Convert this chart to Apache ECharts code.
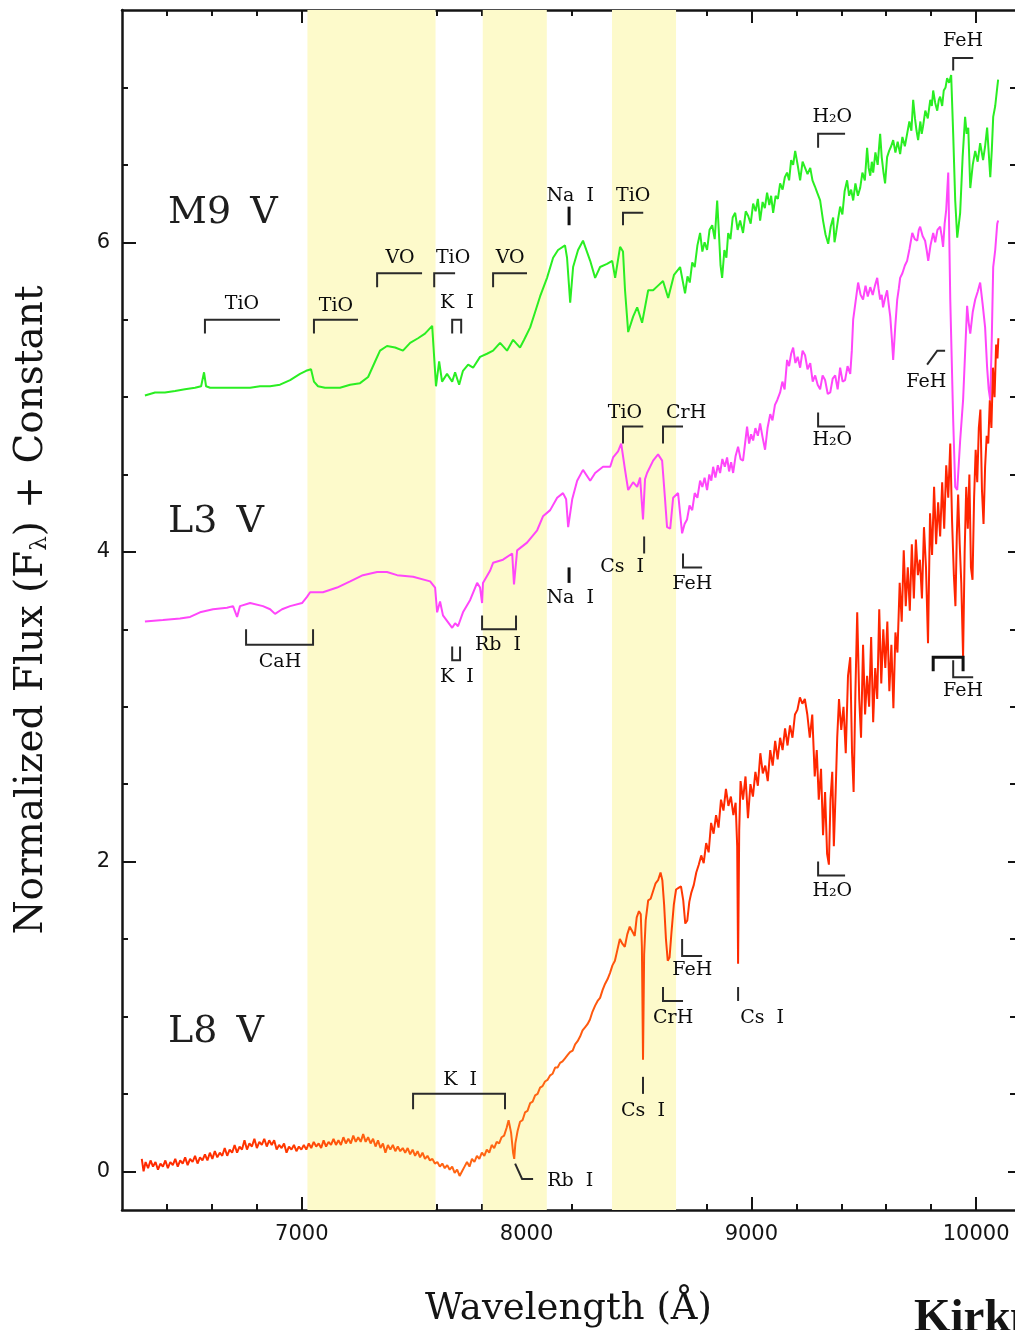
<!DOCTYPE html>
<html>
<head>
<meta charset="utf-8">
<script src="https://cdn.jsdelivr.net/npm/echarts@6/dist/echarts.min.js"></script>
<style>
  html, body { margin: 0; padding: 0; background: #ffffff; }
  #chart { width: 1015px; height: 1330px; }
</style>
</head>
<body>
<div id="chart"></div>
<script>
// Spectra: [wavelength (Å), normalized flux + constant]
const m9Spectrum = [
  [6302,5.01],[6347,5.03],[6391,5.03],[6436,5.04],[6480,5.05],[6525,5.06],[6552,5.07],[6565,5.16],[6574,5.07],
  [6592,5.06],[6636,5.06],[6681,5.06],[6725,5.06],[6770,5.06],[6814,5.07],[6859,5.07],[6903,5.08],[6948,5.11],
  [6992,5.15],[7019,5.17],[7041,5.18],[7054,5.10],[7072,5.07],[7103,5.06],[7135,5.06],[7170,5.06],[7215,5.08],
  [7259,5.09],[7295,5.13],[7326,5.23],[7348,5.30],[7379,5.33],[7415,5.32],[7450,5.30],[7482,5.35],[7517,5.38],
  [7548,5.41],[7580,5.46],[7588,5.47],[7597,5.07],[7611,5.23],[7624,5.10],[7646,5.15],[7669,5.10],[7682,5.16],
  [7700,5.08],[7717,5.17],[7740,5.21],[7762,5.19],[7793,5.26],[7824,5.28],[7851,5.30],[7882,5.35],[7913,5.30],
  [7940,5.37],[7971,5.32],[7989,5.37],[8016,5.45],[8038,5.55],[8060,5.65],[8091,5.77],[8118,5.90],[8140,5.95],
  [8171,5.98],[8180,5.90],[8194,5.61],[8207,5.84],[8229,5.95],[8251,6.01],[8283,5.88],[8305,5.77],[8327,5.84],
  [8358,5.86],[8381,5.88],[8394,5.77],[8416,5.97],[8429,5.94],[8438,5.69],[8452,5.42],[8474,5.52],[8492,5.58],
  [8514,5.48],[8541,5.69],[8563,5.69],[8585,5.72],[8607,5.75],[8630,5.64],[8656,5.79],[8683,5.84],[8705,5.67],
  [8716,5.78],[8726,5.74],[8737,5.87],[8748,5.84],[8760,5.98],[8772,6.06],[8782,5.94],[8792,6.00],[8803,5.95],
  [8814,6.08],[8826,6.11],[8837,6.02],[8848,6.27],[8856,6.05],[8863,5.85],[8870,5.77],[8880,5.95],[8889,5.90],
  [8897,6.06],[8907,6.02],[8917,6.16],[8928,6.19],[8939,6.08],[8950,6.14],[8963,6.06],[8975,6.20],[8986,6.17],
  [8997,6.12],[9008,6.25],[9019,6.20],[9029,6.28],[9039,6.14],[9050,6.26],[9060,6.22],[9070,6.32],[9080,6.24],
  [9088,6.30],[9097,6.19],[9108,6.30],[9118,6.28],[9128,6.38],[9139,6.34],[9149,6.42],[9159,6.45],[9168,6.40],
  [9177,6.53],[9186,6.50],[9195,6.59],[9206,6.50],[9217,6.40],[9228,6.52],[9239,6.48],[9250,6.44],[9262,6.48],
  [9272,6.40],[9283,6.36],[9293,6.32],[9306,6.27],[9319,6.14],[9330,6.05],[9342,5.99],[9353,6.10],[9364,6.16],
  [9370,6.00],[9377,6.06],[9386,6.15],[9395,6.23],[9405,6.18],[9415,6.33],[9426,6.40],[9435,6.30],[9444,6.34],
  [9453,6.27],[9463,6.38],[9474,6.30],[9484,6.35],[9494,6.45],[9505,6.40],[9515,6.61],[9522,6.48],[9529,6.43],
  [9536,6.52],[9542,6.45],[9552,6.58],[9562,6.50],[9573,6.70],[9580,6.55],[9588,6.45],[9595,6.38],[9604,6.55],
  [9613,6.59],[9622,6.62],[9631,6.66],[9641,6.58],[9651,6.65],[9662,6.57],[9672,6.68],[9683,6.62],[9693,6.70],
  [9703,6.78],[9712,6.72],[9720,6.92],[9728,6.80],[9735,6.72],[9742,6.66],[9752,6.78],[9758,6.70],[9764,6.75],
  [9774,6.85],[9785,6.80],[9796,6.92],[9803,6.88],[9809,6.98],[9818,6.90],[9827,6.85],[9834,6.92],[9840,6.94],
  [9849,6.88],[9856,6.98],[9864,7.00],[9871,7.06],[9880,7.03],[9889,7.08],[9898,6.70],[9907,6.27],[9916,6.03],
  [9929,6.19],[9940,6.55],[9951,6.81],[9958,6.70],[9965,6.74],[9974,6.35],[9985,6.50],[9996,6.59],[10007,6.52],
  [10018,6.64],[10031,6.53],[10040,6.62],[10049,6.74],[10063,6.42],[10070,6.60],[10076,6.81],[10085,6.88],
  [10094,7.00],[10098,7.05]
];

const l3Spectrum = [
  [6302,3.55],[6382,3.56],[6458,3.57],[6503,3.58],[6547,3.61],[6605,3.63],[6667,3.64],[6694,3.65],[6712,3.58],
  [6725,3.65],[6770,3.67],[6827,3.65],[6859,3.63],[6881,3.60],[6912,3.63],[6948,3.65],[7001,3.67],[7023,3.71],
  [7037,3.74],[7094,3.74],[7157,3.77],[7215,3.81],[7272,3.85],[7335,3.87],[7379,3.87],[7424,3.85],[7495,3.84],
  [7571,3.81],[7593,3.77],[7602,3.61],[7615,3.68],[7628,3.59],[7669,3.51],[7682,3.54],[7695,3.52],[7717,3.61],
  [7749,3.69],[7780,3.80],[7793,3.77],[7802,3.67],[7806,3.80],[7838,3.88],[7851,3.93],[7895,3.95],[7936,3.99],
  [7944,3.79],[7958,4.01],[8002,4.06],[8047,4.14],[8073,4.23],[8105,4.27],[8136,4.35],[8162,4.38],[8176,4.34],
  [8185,4.16],[8203,4.34],[8225,4.46],[8251,4.53],[8283,4.46],[8305,4.51],[8340,4.55],[8372,4.55],[8385,4.61],
  [8407,4.65],[8421,4.70],[8438,4.53],[8452,4.40],[8474,4.45],[8492,4.42],[8505,4.48],[8518,4.21],[8527,4.47],
  [8536,4.51],[8563,4.59],[8585,4.63],[8603,4.59],[8616,4.34],[8625,4.16],[8639,4.15],[8652,4.35],[8674,4.38],
  [8692,4.12],[8703,4.18],[8714,4.21],[8725,4.30],[8737,4.27],[8748,4.38],[8760,4.35],[8772,4.46],[8782,4.42],
  [8792,4.48],[8803,4.40],[8813,4.50],[8822,4.46],[8830,4.55],[8840,4.48],[8851,4.56],[8861,4.51],[8871,4.60],
  [8882,4.55],[8892,4.61],[8901,4.52],[8910,4.58],[8919,4.51],[8930,4.62],[8941,4.68],[8952,4.60],[8963,4.59],
  [8972,4.70],[8981,4.81],[8990,4.70],[8999,4.76],[9008,4.72],[9018,4.80],[9029,4.75],[9039,4.83],[9050,4.74],
  [9061,4.66],[9072,4.80],[9084,4.89],[9094,4.85],[9105,4.95],[9115,4.98],[9128,5.03],[9138,5.10],[9148,5.05],
  [9159,5.24],[9168,5.20],[9177,5.28],[9186,5.32],[9196,5.22],[9206,5.26],[9217,5.19],[9228,5.30],[9239,5.27],
  [9250,5.18],[9262,5.22],[9273,5.10],[9284,5.14],[9295,5.08],[9306,5.05],[9317,5.14],[9328,5.11],[9340,5.02],
  [9351,5.03],[9362,5.12],[9373,5.14],[9384,5.05],[9395,5.19],[9406,5.10],[9417,5.11],[9428,5.20],[9440,5.15],
  [9447,5.30],[9453,5.50],[9464,5.62],[9475,5.74],[9486,5.66],[9497,5.63],[9508,5.72],[9518,5.65],[9529,5.71],
  [9540,5.66],[9550,5.72],[9560,5.77],[9566,5.70],[9573,5.63],[9580,5.66],[9586,5.58],[9595,5.64],[9604,5.69],
  [9611,5.60],[9618,5.52],[9625,5.38],[9631,5.24],[9640,5.45],[9649,5.63],[9656,5.70],[9662,5.77],[9672,5.80],
  [9683,5.85],[9693,5.88],[9704,5.96],[9716,6.06],[9727,6.02],[9738,6.01],[9745,6.08],[9751,6.10],[9762,6.04],
  [9773,6.01],[9780,5.95],[9787,5.88],[9797,5.98],[9809,6.06],[9818,6.00],[9828,6.08],[9840,6.10],[9847,6.04],
  [9853,5.97],[9860,6.12],[9867,6.21],[9876,6.45],[9885,5.63],[9898,4.85],[9907,4.42],[9916,4.40],[9929,4.72],
  [9942,4.98],[9960,5.59],[9967,5.48],[9974,5.41],[9985,5.55],[9996,5.63],[10007,5.68],[10018,5.74],[10029,5.60],
  [10040,5.45],[10049,5.19],[10056,5.05],[10063,4.98],[10070,5.40],[10076,5.84],[10085,5.95],[10094,6.12],
  [10098,6.14]
];

const l8Spectrum = [
  [6288,0.08],[6296,0.00],[6305,0.06],[6316,0.02],[6327,0.07],[6338,0.03],[6349,0.06],[6360,0.01],[6371,0.05],
  [6382,0.03],[6393,0.07],[6404,0.02],[6415,0.06],[6426,0.04],[6437,0.08],[6448,0.03],[6459,0.07],[6470,0.05],
  [6481,0.09],[6492,0.04],[6503,0.08],[6514,0.06],[6525,0.10],[6536,0.05],[6547,0.09],[6558,0.07],[6569,0.11],
  [6580,0.07],[6591,0.12],[6602,0.08],[6613,0.13],[6624,0.09],[6635,0.12],[6646,0.10],[6657,0.15],[6668,0.10],
  [6679,0.14],[6690,0.12],[6701,0.17],[6712,0.12],[6723,0.16],[6734,0.14],[6745,0.20],[6756,0.14],[6767,0.18],
  [6778,0.16],[6789,0.21],[6800,0.15],[6811,0.19],[6822,0.17],[6833,0.21],[6844,0.16],[6855,0.20],[6866,0.17],
  [6877,0.20],[6888,0.14],[6899,0.17],[6910,0.15],[6921,0.18],[6932,0.12],[6943,0.16],[6954,0.14],[6965,0.17],
  [6976,0.13],[6987,0.16],[6998,0.14],[7009,0.17],[7020,0.14],[7031,0.18],[7042,0.15],[7053,0.19],[7064,0.16],
  [7075,0.18],[7086,0.15],[7097,0.20],[7108,0.16],[7119,0.19],[7130,0.17],[7141,0.21],[7152,0.17],[7163,0.20],
  [7174,0.17],[7185,0.22],[7196,0.18],[7207,0.21],[7218,0.18],[7229,0.23],[7240,0.19],[7251,0.22],[7262,0.19],
  [7273,0.24],[7284,0.19],[7295,0.22],[7306,0.18],[7317,0.21],[7328,0.16],[7339,0.20],[7350,0.15],[7361,0.18],
  [7372,0.12],[7383,0.17],[7394,0.14],[7405,0.17],[7416,0.13],[7427,0.16],[7438,0.13],[7449,0.15],[7460,0.12],
  [7471,0.15],[7482,0.11],[7493,0.14],[7504,0.10],[7515,0.13],[7526,0.09],[7537,0.12],[7548,0.08],[7559,0.10],
  [7570,0.07],[7581,0.08],[7592,0.05],[7603,0.06],[7614,0.03],[7625,0.05],[7636,0.02],[7647,0.04],[7658,0.01],
  [7669,0.03],[7680,-0.01],[7691,0.01],[7702,-0.03],[7713,0.00],[7724,0.03],[7735,0.06],[7746,0.03],[7757,0.08],
  [7768,0.06],[7779,0.10],[7790,0.08],[7801,0.12],[7812,0.10],[7823,0.14],[7834,0.12],[7845,0.17],[7856,0.15],
  [7867,0.19],[7878,0.18],[7889,0.22],[7900,0.23],[7911,0.28],[7920,0.33],[7931,0.25],[7940,0.12],[7945,0.08],
  [7950,0.18],[7960,0.26],[7971,0.32],[7982,0.33],[7993,0.38],[8004,0.39],[8016,0.44],[8027,0.45],[8038,0.49],
  [8049,0.50],[8060,0.54],[8071,0.55],[8082,0.58],[8093,0.59],[8105,0.62],[8116,0.63],[8127,0.67],[8138,0.67],
  [8149,0.70],[8160,0.71],[8171,0.73],[8182,0.75],[8193,0.77],[8205,0.78],[8216,0.82],[8227,0.84],[8238,0.87],
  [8249,0.91],[8260,0.93],[8271,0.95],[8282,0.98],[8293,1.03],[8305,1.07],[8316,1.10],[8327,1.12],[8338,1.17],
  [8349,1.21],[8360,1.24],[8371,1.28],[8382,1.33],[8393,1.36],[8404,1.43],[8415,1.50],[8426,1.47],[8437,1.45],
  [8448,1.53],[8459,1.58],[8470,1.55],[8481,1.52],[8490,1.64],[8500,1.68],[8508,1.66],[8513,1.45],[8518,0.72],
  [8523,1.40],[8530,1.62],[8541,1.75],[8552,1.76],[8563,1.81],[8574,1.86],[8585,1.88],[8596,1.93],[8604,1.88],
  [8612,1.72],[8620,1.50],[8628,1.36],[8636,1.38],[8645,1.55],[8655,1.72],[8665,1.82],[8676,1.83],[8687,1.84],
  [8697,1.75],[8706,1.60],[8715,1.62],[8724,1.74],[8733,1.80],[8744,1.85],[8755,1.93],[8766,1.98],[8777,2.04],
  [8788,1.99],[8799,2.12],[8810,2.06],[8821,2.25],[8832,2.18],[8843,2.30],[8854,2.22],[8865,2.40],[8876,2.33],
  [8887,2.47],[8898,2.36],[8909,2.42],[8920,2.30],[8930,2.38],[8937,2.10],[8941,1.34],[8946,2.20],[8952,2.52],
  [8963,2.40],[8974,2.55],[8985,2.28],[8996,2.50],[9007,2.42],[9018,2.58],[9029,2.49],[9040,2.70],[9051,2.57],
  [9062,2.62],[9073,2.52],[9084,2.72],[9095,2.62],[9106,2.78],[9117,2.66],[9128,2.80],[9139,2.72],[9150,2.86],
  [9161,2.75],[9172,2.88],[9183,2.80],[9194,2.95],[9205,2.98],[9216,3.06],[9227,3.02],[9238,3.05],[9249,2.95],
  [9260,2.80],[9271,2.95],[9282,2.55],[9291,2.72],[9300,2.40],[9310,2.60],[9319,2.17],[9328,2.45],[9337,2.05],
  [9345,1.98],[9352,2.40],[9360,2.58],[9367,2.10],[9375,2.45],[9382,2.80],[9390,3.05],[9400,2.85],[9410,3.00],
  [9420,2.70],[9430,3.20],[9440,3.32],[9448,2.70],[9455,2.45],[9463,3.10],[9471,3.61],[9480,3.05],[9488,2.80],
  [9497,3.40],[9506,2.95],[9515,3.20],[9524,3.00],[9533,3.45],[9542,2.90],[9551,3.25],[9560,3.05],[9569,3.63],
  [9578,3.15],[9587,3.50],[9596,3.25],[9605,3.55],[9614,3.10],[9623,3.40],[9632,2.99],[9641,3.48],[9650,3.35],
  [9660,3.80],[9669,3.55],[9678,4.01],[9687,3.65],[9696,3.90],[9705,3.62],[9714,4.05],[9723,3.70],[9732,4.08],
  [9741,3.85],[9750,3.95],[9759,3.70],[9768,4.16],[9777,3.90],[9786,3.41],[9795,4.25],[9804,3.98],[9813,4.42],
  [9822,4.05],[9831,4.32],[9840,4.10],[9849,4.45],[9858,4.15],[9867,4.56],[9876,4.35],[9885,4.70],[9893,4.20],
  [9901,3.85],[9908,3.65],[9914,4.10],[9920,4.37],[9927,4.05],[9934,3.80],[9942,3.32],[9949,4.00],[9956,4.42],
  [9963,4.15],[9970,4.50],[9977,3.90],[9984,3.82],[9991,4.35],[9998,4.66],[10005,4.45],[10012,4.80],[10019,4.92],
  [10026,4.40],[10033,4.18],[10040,4.55],[10047,4.75],[10054,4.70],[10061,4.98],[10068,4.80],[10075,5.19],
  [10082,5.00],[10089,5.34],[10095,5.25],[10099,5.38]
];

// Shaded wavelength windows (Å)
const bandRanges = [[7025, 7595], [7805, 8090], [8380, 8665]];

// Spectral type labels: [wavelength, flux, text]
const starLabels = [
  [6405, 6.19, 'M9\u2002V'],
  [6405, 4.19, 'L3\u2002V'],
  [6405, 0.90, 'L8\u2002V']
];

// Feature brackets / ticks as polylines in data coordinates
const featureMarks = [
  // M9 V
  [[6569,5.41],[6569,5.50],[6903,5.50]],
  [[7054,5.41],[7054,5.50],[7250,5.50]],
  [[7335,5.71],[7335,5.80],[7535,5.80]],
  [[7589,5.71],[7589,5.80],[7682,5.80]],
  [[7669,5.41],[7669,5.50],[7709,5.50],[7709,5.41]],
  [[7851,5.71],[7851,5.80],[8002,5.80]],
  [[8189,6.11],[8189,6.23]],
  [[8429,6.11],[8429,6.19],[8519,6.19]],
  [[9297,6.61],[9297,6.70],[9417,6.70]],
  [[9898,7.11],[9898,7.19],[9987,7.19]],
  // L3 V
  [[6752,3.50],[6752,3.40],[7050,3.40],[7050,3.50]],
  [[7669,3.39],[7669,3.30],[7704,3.30],[7704,3.39]],
  [[7802,3.59],[7802,3.50],[7953,3.50],[7953,3.59]],
  [[8189,3.90],[8189,3.80]],
  [[8523,4.10],[8523,3.99]],
  [[8429,4.70],[8429,4.81],[8519,4.81]],
  [[8607,4.70],[8607,4.81],[8696,4.81]],
  [[8696,3.99],[8696,3.90],[8781,3.90]],
  [[9297,4.90],[9297,4.81],[9417,4.81]],
  [[9782,5.21],[9827,5.30],[9862,5.30]],
  // L8 V
  [[7495,0.40],[7495,0.50],[7904,0.50],[7904,0.40]],
  [[7949,0.05],[7980,-0.05],[8029,-0.05]],
  [[8518,0.61],[8518,0.50]],
  [[8607,1.19],[8607,1.10],[8696,1.10]],
  [[8692,1.50],[8692,1.39],[8781,1.39]],
  [[8941,1.19],[8941,1.10]],
  [[9297,2.00],[9297,1.91],[9417,1.91]],
  [[9809,3.23],[9809,3.32],[9942,3.32],[9942,3.23]],
  [[9898,3.30],[9898,3.19],[9987,3.19]]
];
const thickMarks = [6, 13, 27];

// Feature names: [wavelength, flux, text]
const featureLabels = [
  [6734,5.60,'TiO'],[7152,5.59,'TiO'],[7437,5.90,'VO'],[7673,5.90,'TiO'],[7690,5.61,'K  I'],
  [7927,5.90,'VO'],[8194,6.30,'Na  I'],[8474,6.30,'TiO'],[9360,6.81,'H₂O'],[9942,7.30,'FeH'],
  [6903,3.29,'CaH'],[7690,3.19,'K  I'],[7873,3.40,'Rb  I'],[8194,3.70,'Na  I'],[8425,3.90,'Cs  I'],
  [8438,4.90,'TiO'],[8710,4.90,'CrH'],[8737,3.79,'FeH'],[9360,4.72,'H₂O'],[9778,5.10,'FeH'],
  [7704,0.59,'K  I'],[8194,-0.06,'Rb  I'],[8518,0.39,'Cs  I'],[8652,0.99,'CrH'],[8737,1.30,'FeH'],
  [9048,0.99,'Cs  I'],[9360,1.81,'H₂O'],[9942,3.10,'FeH']
];

// Axis ranges and ticks (the frame continues a little past the right edge)
const xRange = [6200, 10173];
const yRange = [-0.25, 7.5];
const xMajorTicks = [7000, 8000, 9000, 10000];
const xMinorTicks = [6400, 6600, 6800, 7200, 7400, 7600, 7800, 8200, 8400, 8600, 8800, 9200, 9400, 9600, 9800];
const yMajorTicks = [0, 2, 4, 6];
const yMinorTicks = [0.5, 1, 1.5, 2.5, 3, 3.5, 4.5, 5, 5.5, 6.5, 7];

const INK = '#141414';
const LABEL_FONT = '"DejaVu Serif", serif';

function makeAxis(dim, position, ticks, len, opts) {
  const range = dim === 'x' ? xRange : yRange;
  return Object.assign({
    type: 'value',
    position: position,
    min: range[0],
    max: range[1],
    axisLine: { show: false, onZero: false },
    axisTick: { show: true, inside: true, length: len, customValues: ticks, lineStyle: { color: INK, width: 2 } },
    axisLabel: { show: false },
    splitLine: { show: false }
  }, opts || {});
}

const axisLineStyle = { show: true, onZero: false, lineStyle: { color: INK, width: 2.5 } };
const tickLabelStyle = {
  fontFamily: '"DejaVu Sans", sans-serif', fontSize: 21, color: INK,
  formatter: function (v) { return String(v); }
};

// Orange tint of the L8 trace in the middle of the range
const l8Lo = l8Spectrum[0][0], l8Hi = l8Spectrum[l8Spectrum.length - 1][0];
const l8Tint = [[6288,'#ff2800'],[6950,'#ff3800'],[7250,'#ff6010'],[8050,'#ff6614'],[8550,'#ff4a08'],[8850,'#ff2800'],[10099,'#ff2400']];

const chart = echarts.init(document.getElementById('chart'), null, { renderer: 'canvas' });

chart.setOption({
  animation: false,
  backgroundColor: '#ffffff',
  grid: { left: 122, top: 10, right: 0, bottom: 120, outerBoundsMode: 'none', containLabel: false },
  xAxis: [
    makeAxis('x', 'bottom', xMajorTicks, 13, {
      axisLine: axisLineStyle,
      axisLabel: Object.assign({ show: true, margin: 14, customValues: xMajorTicks }, tickLabelStyle),
      name: 'Wavelength (Å)',
      nameLocation: 'middle',
      nameGap: 81,
      nameTextStyle: { fontFamily: LABEL_FONT, fontSize: 37, color: INK }
    }),
    makeAxis('x', 'bottom', xMinorTicks, 6),
    makeAxis('x', 'top', xMajorTicks, 13, { axisLine: axisLineStyle }),
    makeAxis('x', 'top', xMinorTicks, 6)
  ],
  yAxis: [
    makeAxis('y', 'left', yMajorTicks, 14, {
      axisLine: axisLineStyle,
      axisLabel: Object.assign({ show: true, margin: 12, customValues: yMajorTicks }, tickLabelStyle),
      name: 'Normalized Flux (F{sub|λ}) + Constant',
      nameLocation: 'middle',
      nameGap: 70,
      nameRotate: 90,
      nameTextStyle: {
        fontFamily: LABEL_FONT, fontSize: 39, color: INK,
        rich: { sub: { fontFamily: LABEL_FONT, fontSize: 23, color: INK, padding: [18, 0, 0, 0] } }
      }
    }),
    makeAxis('y', 'left', yMinorTicks, 6),
    makeAxis('y', 'right', yMajorTicks, 7),
    makeAxis('y', 'right', yMinorTicks, 5)
  ],
  graphic: [{
    type: 'text',
    left: 914,
    top: 1295,
    style: { text: 'Kirkpatrick', font: 'bold 47px "Liberation Serif", serif', fill: INK }
  }],
  series: [
    {
      type: 'custom',
      name: 'bands',
      coordinateSystem: 'cartesian2d',
      z: 1,
      silent: true,
      data: bandRanges,
      renderItem: function (params, api) {
        const p0 = api.coord([api.value(0), yRange[1]]);
        const p1 = api.coord([api.value(1), yRange[0]]);
        return {
          type: 'rect',
          shape: { x: p0[0], y: p0[1], width: p1[0] - p0[0], height: p1[1] - p0[1] },
          style: { fill: '#fdfacb' }
        };
      }
    },
    {
      type: 'line', name: 'M9 V', data: m9Spectrum, showSymbol: false, z: 3,
      lineStyle: { color: '#2aee22', width: 2 }
    },
    {
      type: 'line', name: 'L3 V', data: l3Spectrum, showSymbol: false, z: 3,
      lineStyle: { color: '#ff46fa', width: 2 }
    },
    {
      type: 'line', name: 'L8 V', data: l8Spectrum, showSymbol: false, z: 3,
      lineStyle: {
        width: 2,
        color: {
          type: 'linear', x: 0, y: 0, x2: 1, y2: 0,
          colorStops: l8Tint.map(function (s) { return { offset: (s[0] - l8Lo) / (l8Hi - l8Lo), color: s[1] }; })
        }
      }
    },
    {
      type: 'lines',
      name: 'features',
      coordinateSystem: 'cartesian2d',
      polyline: true,
      z: 4,
      silent: true,
      lineStyle: { color: '#2a2a2a', width: 2, opacity: 1 },
      data: featureMarks.map(function (pts, i) {
        const thick = thickMarks.indexOf(i) >= 0;
        return { coords: pts, lineStyle: { width: thick ? 3 : 2, color: thick ? '#111' : '#2a2a2a' } };
      })
    },
    {
      type: 'custom',
      name: 'labels',
      coordinateSystem: 'cartesian2d',
      z: 5,
      silent: true,
      data: featureLabels.map(function (d) { return [d[0], d[1]]; }),
      renderItem: function (params, api) {
        const p = api.coord([api.value(0), api.value(1)]);
        return {
          type: 'text',
          x: p[0], y: p[1],
          style: {
            text: featureLabels[params.dataIndex][2],
            font: '19px ' + LABEL_FONT,
            fill: '#0c0c0c',
            align: 'center',
            verticalAlign: 'middle'
          }
        };
      }
    },
    {
      type: 'custom',
      name: 'types',
      coordinateSystem: 'cartesian2d',
      z: 5,
      silent: true,
      data: starLabels.map(function (d) { return [d[0], d[1]]; }),
      renderItem: function (params, api) {
        const p = api.coord([api.value(0), api.value(1)]);
        return {
          type: 'text',
          x: p[0], y: p[1],
          style: {
            text: starLabels[params.dataIndex][2],
            font: '38px ' + LABEL_FONT,
            fill: '#1e1e1e',
            align: 'left',
            verticalAlign: 'middle'
          }
        };
      }
    }
  ]
});
</script>
</body>
</html>
